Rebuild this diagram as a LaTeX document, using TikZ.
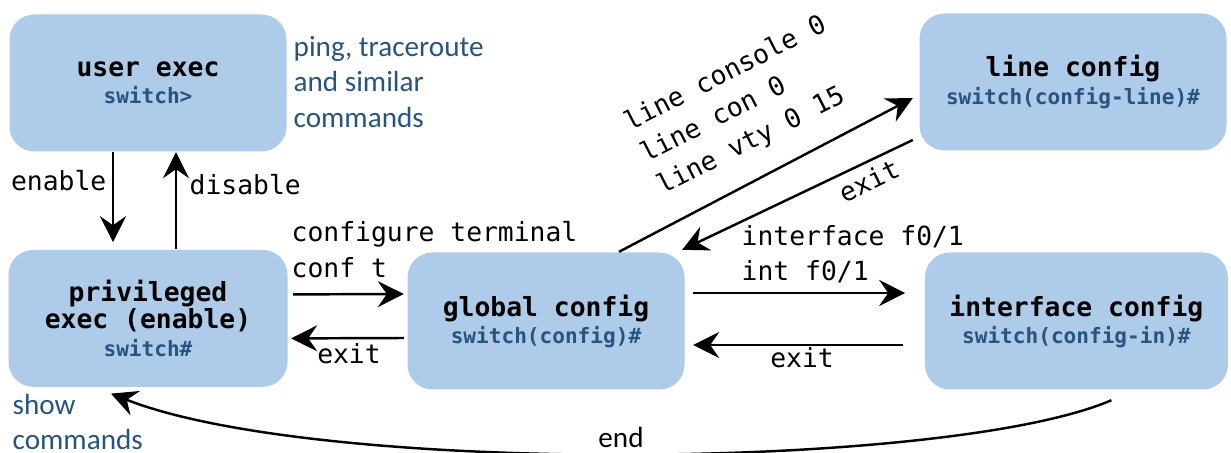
\documentclass[tikz,border=0pt]{standalone}
\usepackage{fontspec}
\setmonofont{DejaVu Sans Mono}
\newfontfamily\calibri{Carlito}
\usetikzlibrary{arrows.meta,positioning}
\definecolor{modeBlue}{RGB}{174,204,233}
\definecolor{cmdBlue}{RGB}{40,84,128}
\newcommand{\prompt}[1]{{\color{cmdBlue}\fontsize{6}{7.7}\selectfont #1}}

\begin{document}
\begin{tikzpicture}[x=0.1mm,y=-0.1mm,
  every node/.style={font=\ttfamily\fontsize{7.5}{10.2}\selectfont},
  mode/.style={fill=modeBlue,rounded corners=2.5mm,minimum height=13.7mm,align=center,inner sep=0pt,
    font=\ttfamily\bfseries\fontsize{7.5}{7.7}\selectfont},
  note/.style={text=cmdBlue,align=left,inner sep=0pt,font=\calibri\fontsize{8.3}{10.2}\selectfont},
  lbl/.style={inner sep=0pt,text height=5.5pt,text depth=1.5pt},
  arr/.style={-{Stealth[length=2.6mm,width=2.6mm,inset=0.9mm]},line width=0.7pt}]
\useasboundingbox (0,0) rectangle (1231,453);
% modes
\node[mode,minimum width=27.7mm] (ue) at (148,83) {user exec\\\prompt{switch>}};
\node[mode,minimum width=27.9mm,below=9.7mm of ue] (pe) {privileged\\exec (enable)\\\prompt{switch\#}};
\node[mode,minimum width=27.7mm] (gc) at (546,321) {global config\\\prompt{switch(config)\#}};
\node[mode,minimum width=30.3mm,right=23.9mm of gc] (ic) {interface config\\\prompt{switch(config-in)\#}};
\node[mode,minimum width=30.7mm] (lc) at (1073,82) {line config\\\prompt{switch(config-line)\#}};
% notes
\node[note,anchor=west] (png) at (293,82) {ping, traceroute\\and similar\\commands};
\node[note,anchor=west] (shw) at (12,422) {show\\commands};
% user <-> privileged
\draw[arr] ([xshift=-3.5mm]ue.south) -- ([xshift=-3.5mm,yshift=0.7mm]pe.north);
\draw[arr] ([xshift=2.8mm]pe.north) -- ([xshift=2.8mm]ue.south);
\node[lbl,anchor=east] (en) at (107,183) {enable};
\node[lbl,anchor=west] (dis) at (189,187) {disable};
% privileged <-> global
\draw[arr] ([shift={(5,-24)}]pe.east) -- ([shift={(-3,-27)}]gc.west);
\draw[arr] ([shift={(-3,17)}]gc.west) -- ([shift={(3,20)}]pe.east);
\node[lbl,anchor=west] (ct) at (291,234) {configure terminal};
\node[lbl,anchor=west] (cts) at (291,270) {conf t};
\node[lbl] (ex1) at (349,356) {exit};
% global <-> interface
\draw[arr] ([shift={(8,-28)}]gc.east) -- ([shift={(-19,-28)}]ic.west);
\draw[arr] ([shift={(-21,24)}]ic.west) -- ([shift={(8,24)}]gc.east);
\node[lbl,anchor=west] (it) at (741,238) {interface f0/1};
\node[lbl,anchor=west] (its) at (741,273) {int f0/1};
\node[lbl] (ex2) at (802,360) {exit};
% global <-> line
\draw[arr] ([xshift=7.3mm]gc.north) -- ([shift={(-6,16)}]lc.west);
\draw[arr] ([shift={(-6,58)}]lc.west) -- ([shift={(-3,-2)}]gc.north east);
\node[inner sep=0pt,align=left,rotate=27] (ln) at (742,106) {line console 0\\line con 0\\line vty 0 15};
\node[lbl,rotate=26] (ex3) at (870,183) {exit};
% back to privileged
\draw[arr] ([shift={(35,10)}]ic.south) .. controls (950,470) and (320,476) .. ([shift={(-37,6)}]pe.south);
\node[font=\calibri\fontsize{8.3}{10}\selectfont] (nd) at (621,437) {end};
\end{tikzpicture}
\end{document}
